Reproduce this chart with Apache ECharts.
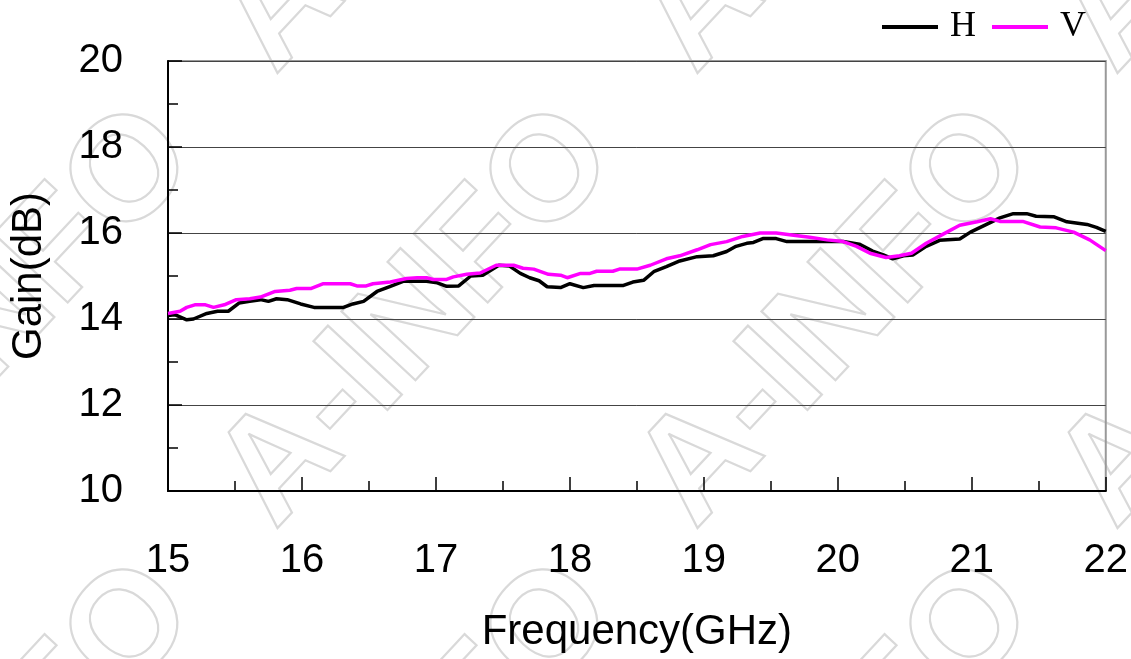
<!DOCTYPE html>
<html>
<head>
<meta charset="utf-8">
<title>Gain vs Frequency</title>
<script src="https://cdn.jsdelivr.net/npm/echarts@6/dist/echarts.min.js"></script>
<style>
  html, body { margin: 0; padding: 0; background: #fff; }
  #main { width: 1131px; height: 659px; }
</style>
</head>
<body>
<div id="main"></div>
<script>
/* H polarisation */
var freqH = [15.0, 15.05, 15.14, 15.19, 15.29, 15.37, 15.45, 15.53, 15.61, 15.69, 15.75, 15.81, 15.89, 15.99, 16.09, 16.31, 16.38, 16.46, 16.56, 16.66, 16.76, 16.93, 17.01, 17.08, 17.17, 17.26, 17.35, 17.47, 17.55, 17.63, 17.70, 17.77, 17.83, 17.93, 18.0, 18.1, 18.18, 18.40, 18.47, 18.55, 18.63, 18.72, 18.82, 18.95, 19.07, 19.17, 19.24, 19.32, 19.37, 19.44, 19.54, 19.62, 19.84, 20.04, 20.16, 20.26, 20.34, 20.41, 20.49, 20.56, 20.66, 20.76, 20.91, 20.99, 21.11, 21.21, 21.31, 21.41, 21.48, 21.61, 21.71, 21.86, 21.93, 22.0];
var gainH = [14.08, 14.1, 13.98, 14.0, 14.13, 14.18, 14.18, 14.37, 14.41, 14.45, 14.41, 14.47, 14.45, 14.35, 14.27, 14.27, 14.35, 14.41, 14.64, 14.76, 14.88, 14.88, 14.84, 14.76, 14.77, 15.0, 15.02, 15.25, 15.23, 15.06, 14.96, 14.89, 14.75, 14.73, 14.82, 14.73, 14.78, 14.78, 14.86, 14.9, 15.11, 15.22, 15.35, 15.45, 15.47, 15.57, 15.69, 15.76, 15.78, 15.87, 15.87, 15.8, 15.8, 15.8, 15.74, 15.58, 15.49, 15.4, 15.47, 15.49, 15.69, 15.83, 15.86, 16.02, 16.2, 16.35, 16.45, 16.45, 16.39, 16.38, 16.26, 16.2, 16.13, 16.04];
/* V polarisation */
var freqV = [15.0, 15.09, 15.14, 15.2, 15.28, 15.34, 15.42, 15.51, 15.61, 15.69, 15.8, 15.91, 15.96, 16.07, 16.16, 16.36, 16.41, 16.48, 16.53, 16.66, 16.78, 16.86, 16.93, 16.98, 17.08, 17.13, 17.23, 17.33, 17.45, 17.58, 17.65, 17.73, 17.84, 17.93, 17.98, 18.08, 18.15, 18.2, 18.32, 18.37, 18.5, 18.6, 18.72, 18.82, 18.95, 19.05, 19.17, 19.29, 19.42, 19.54, 19.67, 19.79, 19.92, 20.04, 20.14, 20.24, 20.36, 20.46, 20.55, 20.66, 20.79, 20.91, 21.04, 21.14, 21.21, 21.38, 21.51, 21.63, 21.76, 21.88, 22.0];
var gainV = [14.13, 14.18, 14.27, 14.33, 14.33, 14.27, 14.33, 14.45, 14.47, 14.51, 14.64, 14.67, 14.71, 14.71, 14.82, 14.82, 14.77, 14.77, 14.82, 14.86, 14.94, 14.96, 14.96, 14.92, 14.92, 14.98, 15.04, 15.07, 15.25, 15.25, 15.18, 15.16, 15.04, 15.02, 14.96, 15.06, 15.06, 15.11, 15.11, 15.16, 15.16, 15.25, 15.4, 15.47, 15.61, 15.73, 15.8, 15.92, 16.0, 16.0, 15.95, 15.9, 15.84, 15.8, 15.69, 15.53, 15.43, 15.47, 15.53, 15.76, 15.98, 16.18, 16.26, 16.33, 16.27, 16.27, 16.14, 16.12, 16.02, 15.84, 15.59];

var seriesNames = ['H', 'V'];
var watermarkText = 'A-INFO';

function pairs(xs, ys) {
  return xs.map(function (x, i) { return [x, ys[i]]; });
}

/* watermark, repeated diagonally */
function watermark() {
  var list = [];
  for (var k = -1; k <= 2; k++) {
    for (var m = -1; m <= 1; m++) {
      list.push({
        type: 'text',
        x: 418 + 420 * k,
        y: 318 + 455 * m,
        rotation: 47 * Math.PI / 180,
        z: -10,
        silent: true,
        style: {
          text: watermarkText,
          font: 'bold 147px "Liberation Sans"',
          fill: 'transparent',
          stroke: '#d9d9d9',
          lineWidth: 2.2,
          align: 'center',
          verticalAlign: 'middle'
        }
      });
    }
  }
  return list;
}

var chart = echarts.init(document.getElementById('main'));
var tickFont = { color: '#000', fontFamily: '"Liberation Sans", Arial', fontSize: 40 };
var nameFont = { color: '#000', fontFamily: '"Liberation Sans", Arial', fontSize: 42 };

chart.setOption({
  animation: false,
  backgroundColor: '#fff',
  graphic: watermark(),
  legend: {
    data: seriesNames,
    right: 40,
    top: 4,
    icon: 'rect',
    itemWidth: 56,
    itemHeight: 4,
    itemGap: 16,
    textStyle: {
      color: '#000',
      fontFamily: '"Liberation Serif", serif',
      fontSize: 36,
      padding: [0, 0, 0, 7]
    }
  },
  grid: {
    left: 167,
    right: 25,
    top: 61,
    bottom: 168,
    show: true,
    borderColor: '#999',
    borderWidth: 2,
    backgroundColor: 'transparent'
  },
  xAxis: {
    type: 'value',
    min: 15,
    max: 22,
    interval: 1,
    name: 'Frequency(GHz)',
    nameLocation: 'middle',
    nameGap: 120,
    nameTextStyle: nameFont,
    axisLine: { lineStyle: { color: '#000', width: 2 } },
    axisTick: { inside: true, length: 14, lineStyle: { color: '#000', width: 1.5 } },
    minorTick: { show: true, splitNumber: 2, length: 10, lineStyle: { color: '#000', width: 1.5 } },
    axisLabel: Object.assign({ margin: 50 }, tickFont),
    splitLine: { show: false }
  },
  yAxis: {
    type: 'value',
    min: 10,
    max: 20,
    interval: 2,
    name: 'Gain(dB)',
    nameLocation: 'middle',
    nameGap: 118,
    nameTextStyle: nameFont,
    axisLine: { lineStyle: { color: '#000', width: 2 } },
    axisTick: { inside: true, length: 14, lineStyle: { color: '#000', width: 1.5 } },
    minorTick: { show: true, splitNumber: 2, length: 10, lineStyle: { color: '#000', width: 1.5 } },
    axisLabel: Object.assign({ margin: 45 }, tickFont),
    splitLine: { show: true, lineStyle: { color: '#444', width: 1 } }
  },
  series: [
    {
      name: seriesNames[0],
      type: 'line',
      showSymbol: false,
      itemStyle: { color: '#000' },
      lineStyle: { color: '#000', width: 3.5 },
      data: pairs(freqH, gainH)
    },
    {
      name: seriesNames[1],
      type: 'line',
      showSymbol: false,
      itemStyle: { color: '#ff00ff' },
      lineStyle: { color: '#ff00ff', width: 3.5 },
      data: pairs(freqV, gainV)
    }
  ]
});
</script>
</body>
</html>
